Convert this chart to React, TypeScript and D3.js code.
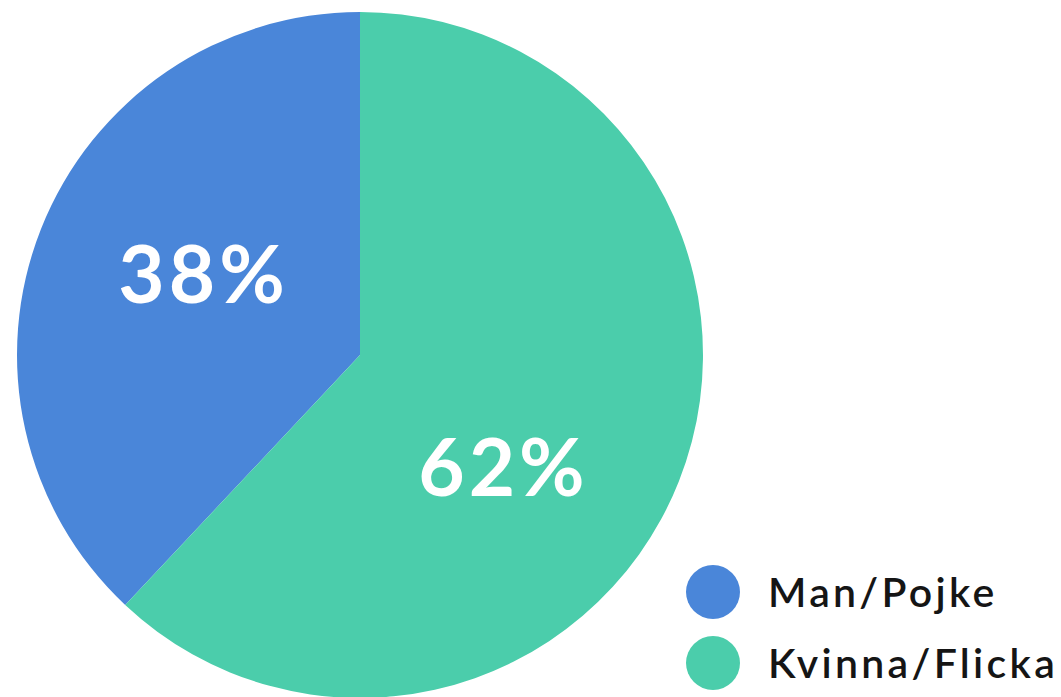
import React from "react";
import * as d3 from "d3";

const categories = ["Man/Pojke", "Kvinna/Flicka"];
const values = [38, 62];
const colors = ["#4a86d9", "#4bcdab"];

const W = 1061;
const H = 697;

// label nudges (style only, px)
const labelOffsets: [number, number][] = [
  [3, -20],
  [-16, 47],
];

export default function App() {
  const cx = 360;
  const cy = 355;
  const r = 343;
  const total = d3.sum(values);
  const start = -(values[0] / total) * 2 * Math.PI;
  const pie = d3
    .pie<number>()
    .sort(null)
    .value((d) => d)
    .startAngle(start)
    .endAngle(start + 2 * Math.PI);
  const arcs = pie(values);
  const arc = d3.arc<d3.PieArcDatum<number>>().innerRadius(0).outerRadius(r);
  const labelArc = d3
    .arc<d3.PieArcDatum<number>>()
    .innerRadius(r * 0.5)
    .outerRadius(r * 0.5);
  const legendY = d3.scaleLinear().domain([0, 1]).range([592, 663]);

  return (
    <svg
      width={W}
      height={H}
      style={{ position: "absolute", left: 0, top: 0, background: "#fff" }}
    >
      <g transform={`translate(${cx},${cy})`}>
        {arcs.map((a, i) => (
          <path key={i} d={arc(a) || ""} fill={colors[i]} />
        ))}
        {arcs.map((a, i) => {
          const [x, y] = labelArc.centroid(a);
          return (
            <text
              key={"t" + i}
              x={x + labelOffsets[i][0]}
              y={y + labelOffsets[i][1]}
              textAnchor="middle"
              dominantBaseline="central"
              fill="#fff"
              fontFamily="Lato, sans-serif"
              fontWeight={700}
              fontSize={80}
              letterSpacing={4}
            >
              {Math.round((a.data / total) * 100)}%
            </text>
          );
        })}
      </g>
      {categories.map((c, i) => (
        <g key={c} transform={`translate(713,${legendY(i)})`}>
          <circle r={27} fill={colors[i]} />
          <text
            x={55}
            y={15}
            fill="#151515"
            fontFamily="Lato, sans-serif"
            fontWeight={600}
            fontSize={41}
            letterSpacing={3.3}
          >
            {c}
          </text>
        </g>
      ))}
    </svg>
  );
}
